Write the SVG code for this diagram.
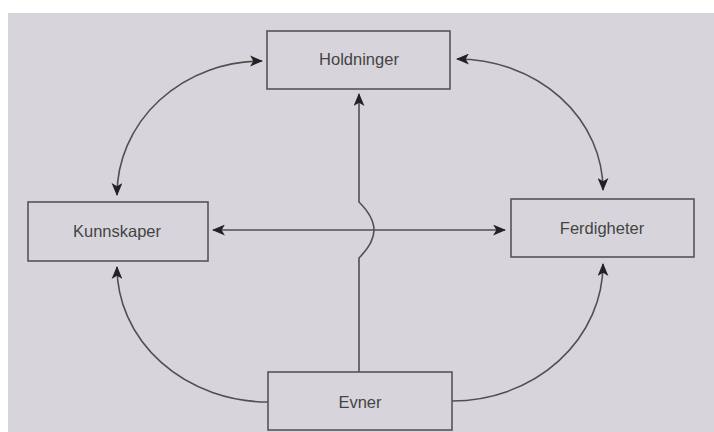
<svg xmlns="http://www.w3.org/2000/svg" width="714" height="432" viewBox="0 0 714 432">
<defs>
<style>
.box{fill:none;stroke:#555;stroke-width:1.6}
.lbl{font-family:"Liberation Sans",Arial,sans-serif;font-size:16.5px;fill:#444;text-anchor:middle;dominant-baseline:central}
.c{fill:none;stroke:#505050;stroke-width:1.6}
</style>
<marker id="ah" viewBox="0 0 12 10" refX="11" refY="5" markerWidth="13" markerHeight="11" markerUnits="userSpaceOnUse" orient="auto-start-reverse">
<path d="M0,0 L12,5 L0,10 L3,5 z" fill="#222"/>
</marker>
</defs>
<rect x="0" y="0" width="714" height="432" fill="#ffffff"/>
<rect x="8" y="13" width="706" height="419" fill="#d7d5db"/>
<g id="connectors">
<path class="c" d="M262,61 A145,134 0 0 0 117,195" marker-start="url(#ah)" marker-end="url(#ah)"/>
<path class="c" d="M457,59 A146,131 0 0 1 603,190" marker-start="url(#ah)" marker-end="url(#ah)"/>
<path class="c" d="M268,402 A151,135 0 0 1 117,267" marker-end="url(#ah)"/>
<path class="c" d="M452,401 A151,137 0 0 0 603,264" marker-end="url(#ah)"/>
<path class="c" d="M213,230 L505,230" marker-start="url(#ah)" marker-end="url(#ah)"/>
<path class="c" d="M359,372 L359,258 C367,250 374,241 374,230 C374,219 367,210 359,202 L359,94" marker-end="url(#ah)"/>
</g>
<g id="holdninger">
<rect class="box" x="267" y="31" width="183" height="58"/>
<text class="lbl" x="359" y="59">Holdninger</text>
</g>
<g id="kunnskaper">
<rect class="box" x="28" y="202" width="180" height="59"/>
<text class="lbl" x="117" y="231">Kunnskaper</text>
</g>
<g id="ferdigheter">
<rect class="box" x="511" y="199" width="183" height="58"/>
<text class="lbl" x="602" y="228">Ferdigheter</text>
</g>
<g id="evner">
<rect class="box" x="268" y="372" width="184" height="58"/>
<text class="lbl" x="360" y="402">Evner</text>
</g>
</svg>
